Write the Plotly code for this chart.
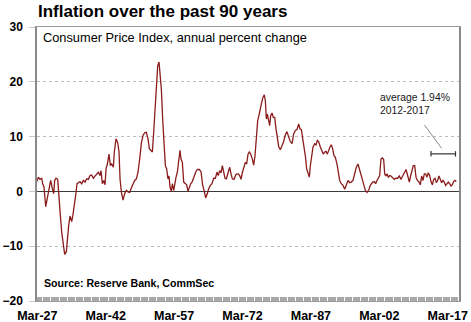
import plotly.graph_objects as go

# Annual CPI change (%) (x in decimal years on the chart's axis)
years = [
    1927.03, 1927.40, 1927.76, 1928.13, 1928.35, 1928.64, 1929.01, 1929.44, 1929.81, 1930.10,
    1930.47, 1930.76, 1930.98, 1931.27, 1931.64, 1932.00, 1932.22, 1932.51, 1932.88, 1933.17,
    1933.54, 1933.76, 1934.05, 1934.34, 1934.71, 1935.00, 1935.29, 1935.58, 1935.88, 1936.17,
    1936.53, 1936.90, 1937.27, 1937.63, 1938.00, 1938.36, 1938.73, 1939.09, 1939.46, 1939.82,
    1940.19, 1940.56, 1940.92, 1941.14, 1941.43, 1941.73, 1942.02, 1942.24, 1942.53, 1942.89,
    1943.19, 1943.48, 1943.85, 1944.06, 1944.43, 1944.80, 1945.09,
    1945.31, 1945.60, 1945.96, 1946.33, 1946.70, 1947.06, 1947.43, 1947.79, 1948.16, 1948.52,
    1948.89, 1949.25, 1949.62, 1949.99, 1950.35, 1950.72, 1951.08, 1951.45, 1951.74, 1952.03,
    1952.40, 1952.69, 1952.98, 1953.27, 1953.57, 1953.86, 1954.08, 1954.37, 1954.66, 1954.96,
    1955.25, 1955.54, 1955.83, 1956.05, 1956.27, 1956.56, 1956.78, 1957.08, 1957.30, 1957.59,
    1957.88, 1958.25, 1958.46, 1958.68, 1958.98, 1959.27, 1959.56, 1959.93, 1960.22, 1960.51,
    1960.80, 1961.10, 1961.46, 1961.75, 1962.05, 1962.34, 1962.70, 1963.07, 1963.44,
    1963.80, 1964.09, 1964.46, 1964.75, 1965.12, 1965.48, 1965.85, 1966.21, 1966.58, 1966.87,
    1967.16, 1967.46, 1967.75, 1968.04, 1968.33, 1968.63, 1968.99, 1969.36, 1969.65, 1969.94,
    1970.31, 1970.67, 1970.96, 1971.26, 1971.55, 1971.84, 1972.13, 1972.43, 1972.79, 1973.08,
    1973.38, 1973.67, 1973.96, 1974.33, 1974.62, 1974.91, 1975.20, 1975.50, 1975.79, 1976.08,
    1976.37, 1976.67, 1976.96, 1977.18, 1977.40, 1977.62, 1977.84, 1978.13, 1978.35, 1978.64,
    1978.93, 1979.23, 1979.52, 1979.81, 1980.10, 1980.47, 1980.83, 1981.20, 1981.56, 1981.93,
    1982.30, 1982.66, 1983.03, 1983.39, 1983.76, 1984.12, 1984.49, 1984.78, 1985.07, 1985.37,
    1985.66, 1985.95, 1986.24, 1986.53, 1986.83, 1987.05, 1987.34, 1987.63, 1988.00, 1988.29,
    1988.58, 1988.87, 1989.24, 1989.61, 1989.90, 1990.19, 1990.48, 1990.77, 1991.07, 1991.36,
    1991.65, 1991.94, 1992.24, 1992.53, 1992.89, 1993.19, 1993.48, 1993.84, 1994.21, 1994.58,
    1994.94, 1995.31, 1995.67, 1996.04, 1996.40, 1996.77, 1997.13, 1997.50, 1997.79, 1998.08,
    1998.38, 1998.74, 1999.11, 1999.47, 1999.84, 2000.20, 2000.57,
    2000.72, 2001.08, 2001.37, 2001.67, 2001.96, 2002.25, 2002.54, 2002.84, 2003.13, 2003.35,
    2003.57, 2003.86, 2004.15, 2004.44, 2004.74, 2005.10, 2005.47, 2005.83, 2006.20, 2006.56,
    2006.93, 2007.30, 2007.66, 2008.03, 2008.39, 2008.76, 2009.05, 2009.34, 2009.63, 2009.93,
    2010.22, 2010.51, 2010.80, 2011.17, 2011.46, 2011.75, 2012.05, 2012.34, 2012.63, 2012.92,
    2013.22, 2013.51, 2013.80, 2014.09, 2014.39, 2014.68, 2014.97, 2015.26, 2015.56, 2015.85,
    2016.14, 2016.43, 2016.72, 2017.02, 2017.31, 2017.60, 2017.89, 2018.19, 2018.48, 2018.77,
    2019.06, 2019.43,
]
cpi_change = [
    1.8, 2.6, 2.2, 2.4, 1.4, 0.8, -2.8, -0.7, 0.8, 2.0,
    0.5, -0.4, 2.0, 2.4, 2.2, -3.2, -4.4, -7.4, -10.4, -11.5,
    -11.0, -8.0, -6.2, -4.5, -5.5, -4.2, -2.8, -0.7, 1.4, 1.6,
    1.8, 1.4, 2.0, 1.7, 2.3, 2.2, 2.9, 3.0, 2.4, 2.8,
    3.2, 3.5, 2.9, 3.8, 1.4, 2.0, 1.2, 4.1, 5.0, 6.8,
    4.7, 5.0, 4.4, 7.2, 9.6, 8.9,
    7.2, 2.3, -0.1, -1.6, -0.4, 0.2, -0.1, -0.2, 0.6, 1.5,
    2.0, 2.3, 3.5, 5.9, 8.8, 10.2, 10.7, 10.8, 9.6, 7.8,
    7.5, 7.2, 10.8, 15.6, 19.9, 22.9, 23.6, 22.0, 18.7, 13.2,
    7.8, 4.7, 4.1, 2.3, 2.8, 0.8, 0.0, 1.4, 0.2, 1.4,
    2.6, 3.5, 6.2, 7.5, 5.9, 5.3, 1.7, 1.4, 1.2, 0.0,
    0.8, 1.4, 1.7, 2.4, 2.9, 3.8, 4.0, 4.0, 3.6,
    1.1, 0.0, -1.2, -0.4, 0.5, 1.1, 1.4, 2.4, 2.4, 3.5,
    2.9, 3.8, 3.4, 4.7, 3.6, 2.4, 2.3, 3.4, 4.4, 3.2,
    2.3, 2.2, 3.0, 3.2, 3.2, 2.9, 2.2, 3.4, 4.1, 5.3,
    5.0, 6.8, 7.2, 6.8, 5.9, 4.8, 6.5, 9.6, 12.9, 13.9,
    15.3, 16.2, 17.2, 17.6, 16.5, 13.2, 14.1, 13.1, 12.0, 13.8,
    14.3, 13.5, 13.5, 11.4, 9.3, 8.2, 7.6, 8.2, 9.1, 10.3,
    10.9, 9.9, 9.1, 8.7, 10.5, 11.1, 11.3, 12.3, 11.4, 11.3,
    9.6, 8.4, 6.5, 4.1, 3.2, 2.6, 4.7, 6.8, 8.1, 8.7,
    8.5, 9.3, 9.1, 8.1, 7.2, 6.8, 7.2, 7.3, 6.8, 7.6,
    8.1, 8.5, 7.8, 6.5, 6.2, 5.0, 3.2, 2.0, 1.4, 1.1,
    0.4, 1.4, 2.0, 1.6, 1.7, 2.0, 3.2, 4.4, 5.0, 4.1,
    2.9, 2.0, 1.1, 0.2, -0.2, 0.2, 1.1,
    1.4, 1.7, 1.8, 1.4, 2.0, 2.4, 2.9, 5.9, 6.1, 5.8,
    3.2, 2.8, 3.2, 2.6, 2.9, 2.8, 2.4, 2.2, 2.4, 2.4,
    2.8, 2.2, 2.8, 3.5, 4.0, 2.9, 1.7, 2.9, 3.8, 4.7,
    4.7, 2.6, 2.0, 1.8, 1.2, 2.8, 2.0, 3.2, 3.2, 2.6,
    3.4, 2.9, 1.8, 1.2, 2.2, 2.4, 1.6, 2.0, 2.8, 2.3,
    1.6, 2.0, 1.7, 1.1, 1.4, 1.7, 1.4, 1.0, 1.2, 1.8,
    2.0, 1.8,
]

tick_years = [1927.17, 1942.17, 1957.17, 1972.17, 1987.17, 2002.17, 2017.17]
tick_labels = ["Mar-27", "Mar-42", "Mar-57", "Mar-72", "Mar-87", "Mar-02", "Mar-17"]
y_ticks = [-20, -10, 0, 10, 20, 30]

FONT = "Liberation Sans, Arial, sans-serif"

fig = go.Figure()
fig.add_trace(go.Scatter(
    x=years, y=cpi_change, mode="lines",
    line=dict(color="#8b1c1c", width=1.3),
    hoverinfo="skip", showlegend=False,
))

fig.update_layout(
    width=471, height=322,
    margin=dict(l=37, r=12, t=27, b=21, autoexpand=False),
    paper_bgcolor="white", plot_bgcolor="white",
    font=dict(family=FONT, color="black"),
    showlegend=False,
    title=dict(
        text="<b>Inflation over the past 90 years</b>",
        font=dict(family=FONT, size=17, color="black"),
        xref="container", yref="container",
        x=38 / 471, xanchor="left", y=1 - 11 / 322, yanchor="middle",
        automargin=False,
    ),
)

fig.update_xaxes(
    range=[1927.10, 2019.65], automargin=False,
    tickmode="array", tickvals=tick_years, ticktext=tick_labels,
    ticks="", showgrid=False, zeroline=False, ticklabelstandoff=3,
    tickfont=dict(family=FONT, size=12.5, color="black", weight="bold"),
    showline=True, linecolor="#9a9a9a", linewidth=1.2, mirror=True,
    minor=dict(tick0=1927.17, dtick=0.25, ticks="inside", ticklen=4,
               tickcolor="#a8a8a8", tickwidth=1, showgrid=False),
)
fig.update_yaxes(
    range=[-20, 30], tickmode="array", tickvals=y_ticks, automargin=False,
    ticks="outside", ticklen=6, tickcolor="#c8c8c8", ticklabelstandoff=4,
    showgrid=True, gridcolor="#bdbdbd", griddash="dot", gridwidth=1,
    zeroline=True, zerolinecolor="#3a3a3a", zerolinewidth=1.2,
    tickfont=dict(family=FONT, size=12, color="black", weight="bold"),
    showline=True, linecolor="#8a8a8a", linewidth=1.5, mirror=True,
)

fig.add_annotation(
    text="Consumer Price Index, annual percent change",
    xref="paper", yref="paper", x=(40.5 - 37) / 422, y=1 - (37.5 - 27) / 274,
    xanchor="left", yanchor="middle", showarrow=False,
    font=dict(family=FONT, size=12.8, color="black"),
)
fig.add_annotation(
    text="<b>Source: Reserve Bank, CommSec</b>",
    xref="paper", yref="paper", x=(41.5 - 37) / 422, y=1 - (283 - 27) / 274,
    xanchor="left", yanchor="middle", showarrow=False,
    font=dict(family=FONT, size=10.6, color="black"),
)
fig.add_annotation(
    text="average 1.94%",
    xref="paper", yref="paper", x=(378 - 37) / 422, y=1 - (97.8 - 27) / 274,
    xanchor="left", yanchor="middle", showarrow=False,
    font=dict(family=FONT, size=10.4, color="#1a1a1a"),
)
fig.add_annotation(
    text="2012-2017",
    xref="paper", yref="paper", x=(378 - 37) / 422, y=1 - (110.5 - 27) / 274,
    xanchor="left", yanchor="middle", showarrow=False,
    font=dict(family=FONT, size=10.4, color="#1a1a1a"),
)

# leader line and 2012-2017 bracket
fig.add_shape(type="line", xref="paper", yref="y",
              x0=(424.5 - 37) / 422, y0=12.1, x1=(441.7 - 37) / 422, y1=7.85,
              line=dict(color="#8c8c8c", width=1))
fig.add_shape(type="line", xref="paper", yref="y",
              x0=(431 - 37) / 422, y0=6.85, x1=(455.5 - 37) / 422, y1=6.85,
              line=dict(color="#333333", width=1.2))
fig.add_shape(type="line", xref="paper", yref="y",
              x0=(431 - 37) / 422, y0=6.35, x1=(431 - 37) / 422, y1=7.35,
              line=dict(color="#333333", width=1.2))
fig.add_shape(type="line", xref="paper", yref="y",
              x0=(455.5 - 37) / 422, y0=6.35, x1=(455.5 - 37) / 422, y1=7.35,
              line=dict(color="#333333", width=1.2))

fig.write_html("out.html")
